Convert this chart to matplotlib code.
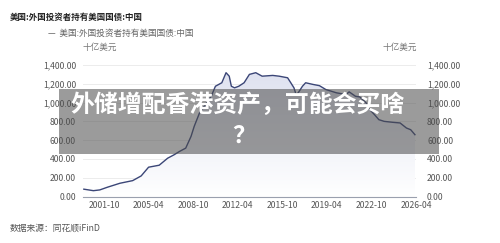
import matplotlib.pyplot as plt
from matplotlib.patches import Rectangle
import numpy as np

plt.rcParams['font.family'] = ['Noto Sans CJK SC', 'DejaVu Sans']

# 美国:外国投资者持有美国国债:中国 (十亿美元)
dates = ["2000-03", "2000-12", "2001-06", "2002-01", "2003-01", "2004-01", "2004-09",
         "2005-04", "2006-02", "2006-10", "2007-04", "2007-09", "2008-03", "2008-08",
         "2008-11", "2009-04", "2010-03", "2010-07", "2011-01", "2011-05", "2011-08",
         "2011-10", "2012-01", "2012-05", "2012-10", "2013-03", "2013-09", "2014-03",
         "2015-01", "2015-07", "2016-03", "2016-06", "2016-09", "2016-11", "2017-01",
         "2017-05", "2017-08", "2018-03", "2018-09", "2019-03", "2020-01", "2020-10",
         "2021-01", "2021-07", "2021-11", "2022-05", "2022-08", "2023-01", "2023-05",
         "2023-10", "2024-06", "2025-01", "2025-07", "2025-11", "2026-03"]
values = [78, 62, 70, 98, 141, 169, 219,
          312, 333, 408, 444, 479, 515, 640,
          747, 890, 1067, 1174, 1211, 1318, 1281,
          1174, 1157, 1174, 1211, 1300, 1318, 1281,
          1289, 1281, 1264, 1211, 1157, 1086, 1104,
          1174, 1211, 1193, 1180, 1139, 1104, 1086,
          1114, 1067, 1060, 997, 930, 870, 818,
          800, 790, 783, 729, 711, 658]
tick_labels = ["2001-10", "2005-04", "2008-10", "2012-04", "2015-10", "2019-04", "2022-10", "2026-04"]
y_ticks = [0, 200, 400, 600, 800, 1000, 1200, 1400]


def to_year(s):
    y, m = s.split("-")
    return int(y) + (int(m) - 1) / 12


x = np.array([to_year(d) for d in dates])
y = np.array(values)

fig = plt.figure(figsize=(5, 2.43), dpi=100)
ax = fig.add_axes([83 / 500, 1 - 196.5 / 243, 333 / 500, 131.5 / 243])

# gradient fill under the curve
poly = ax.fill_between(x, y, 0, color='none')
grad = np.linspace(0, 1, 256).reshape(-1, 1)
cmap = plt.matplotlib.colors.LinearSegmentedColormap.from_list('g', ['#ffffff', '#dfe2f0'])
im = ax.imshow(grad, extent=[2000.1, 2026.25, 0, 1330], origin='lower', aspect='auto',
               cmap=cmap, zorder=1)
im.set_clip_path(poly.get_paths()[0], transform=ax.transData)

ax.plot(x, y, color='#3b4677', lw=1.0, zorder=3)

ax.set_xlim(2000.1, 2026.25)
ax.set_ylim(0, 1400)
ax.set_yticks(y_ticks)
ax.set_yticklabels([f"{v:,.2f}" for v in y_ticks])
ax.set_xticks([to_year(t) for t in tick_labels])
ax.set_xticklabels(tick_labels)
ax.grid(axis='y', color='#ececec', lw=0.7)
ax.set_axisbelow(True)
for s in ['top', 'right', 'left']:
    ax.spines[s].set_visible(False)
ax.spines['bottom'].set_color('#9aa0ae')
ax.spines['bottom'].set_linewidth(0.8)
ax.tick_params(axis='both', length=0, labelsize=6.2, colors='#555555')
ax.tick_params(axis='y', pad=5)
ax.tick_params(axis='x', pad=3)

ax2 = ax.twinx()
ax2.set_ylim(0, 1400)
ax2.set_yticks(y_ticks)
ax2.set_yticklabels([f"{v:,.2f}" for v in y_ticks])
ax2.tick_params(axis='y', length=0, labelsize=6.2, colors='#555555', pad=8)
for s in ax2.spines.values():
    s.set_visible(False)

fig.text(10 / 500, 1 - 17 / 243, "美国:外国投资者持有美国国债:中国", fontsize=6.1,
         fontweight='bold', color='#222222', va='center')
fig.text(48 / 500, 1 - 33 / 243, "—  美国:外国投资者持有美国国债:中国", fontsize=6.2,
         color='#666666', va='center')
fig.text(100 / 500, 1 - 47 / 243, "十亿美元", fontsize=6.2, color='#777777', va='center', ha='center')
fig.text(400 / 500, 1 - 47 / 243, "十亿美元", fontsize=6.2, color='#777777', va='center', ha='center')
fig.text(10 / 500, 1 - 228 / 243, "数据来源：同花顺iFinD", fontsize=6.3, color='#555555', va='center')

# banner overlay
fig.patches.append(Rectangle((59 / 500, 1 - 154 / 243), 380 / 500, 65 / 243,
                             transform=fig.transFigure, facecolor='#4a4a4a', alpha=0.55,
                             edgecolor='none', zorder=5))
fig.text(238 / 500, 1 - 105 / 243, "外储增配香港资产，可能会买啥", fontsize=17.2, fontweight='bold',
         color='white', ha='center', va='center', zorder=6)
fig.text(244 / 500, 1 - 136 / 243, "？", fontsize=17.2, fontweight='bold',
         color='white', ha='center', va='center', zorder=6)

fig.savefig("out.png", dpi=100)
